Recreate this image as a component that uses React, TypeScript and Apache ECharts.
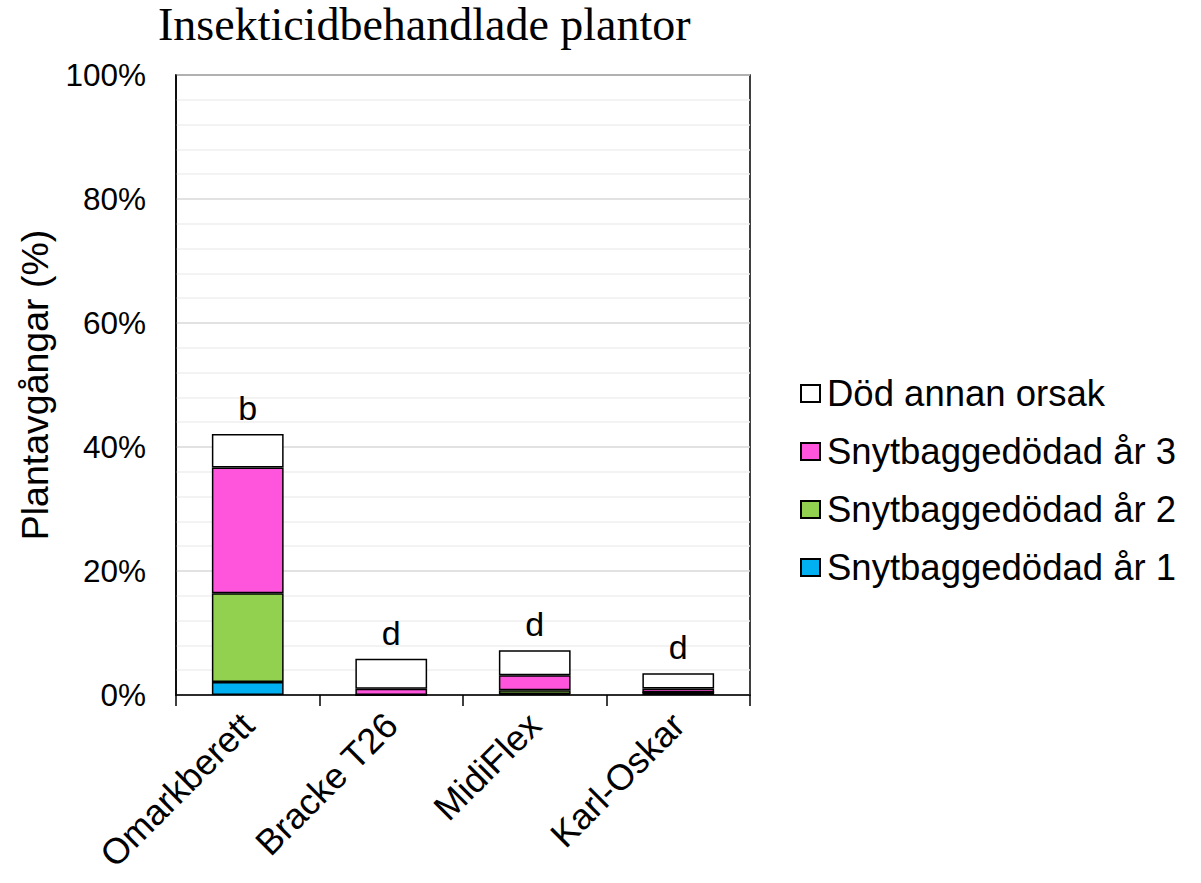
import React, { useEffect, useRef } from "react";
import * as echarts from "echarts";

const categories = ["Omarkberett", "Bracke T26", "MidiFlex", "Karl-Oskar"];
const year1 = [2.1, 0, 0.15, 0.45];
const year2 = [14.3, 0, 0.6, 0];
const year3 = [20.3, 1.0, 2.45, 0.6];
const other = [5.4, 4.85, 4.0, 2.45];
const letters = ["b", "d", "d", "d"];
const yTicks = [0, 20, 40, 60, 80, 100];

const SANS = "'Liberation Sans', Arial, sans-serif";

export default function App() {
  const ref = useRef<HTMLDivElement>(null);
  useEffect(() => {
    if (!ref.current) return;
    const chart = echarts.init(ref.current, null, { renderer: "svg" });
    const barBase = {
      type: "bar",
      stack: "total",
      barWidth: "50%",
      itemStyle: { borderColor: "#000", borderWidth: 1.5 },
    };
    chart.setOption({
      animation: false,
      backgroundColor: "#fff",
      title: {
        text: "Insekticidbehandlade plantor",
        left: 153,
        top: -4,
        textStyle: {
          fontFamily: "'Liberation Serif', 'Times New Roman', serif",
          fontSize: 46,
          fontWeight: "normal",
          color: "#000",
        },
      },
      legend: {
        orient: "vertical",
        left: 795,
        top: 370,
        itemWidth: 19,
        itemHeight: 17,
        itemGap: 21,
        icon: "rect",
        data: ["Död annan orsak", "Snytbaggedödad år 3", "Snytbaggedödad år 2", "Snytbaggedödad år 1"],
        textStyle: {
          fontFamily: SANS,
          fontSize: 36.5,
          color: "#000",
          lineHeight: 37,
          padding: [0, 0, 0, 2],
        },
      },
      grid: {
        left: 176,
        right: 451,
        top: 75,
        bottom: 188,
        show: true,
        borderColor: "#000",
        borderWidth: 1.5,
        containLabel: false,
      },
      xAxis: {
        type: "category",
        data: categories,
        axisLine: { show: true, lineStyle: { color: "#000", width: 1.5 } },
        axisTick: { show: true, length: 11, lineStyle: { color: "#000", width: 1.5 } },
        axisLabel: {
          rotate: 45,
          margin: 24,
          fontFamily: SANS,
          fontSize: 36,
          color: "#000",
        },
      },
      yAxis: {
        type: "value",
        min: yTicks[0],
        max: yTicks[yTicks.length - 1],
        interval: 20,
        name: "Plantavgångar (%)",
        nameLocation: "middle",
        nameGap: 122,
        nameTextStyle: { fontFamily: SANS, fontSize: 37.5, color: "#000" },
        axisLine: { show: true, lineStyle: { color: "#000", width: 1.5 } },
        axisTick: { show: false },
        axisLabel: {
          formatter: "{value}%",
          margin: 30,
          fontFamily: SANS,
          fontSize: 31.5,
          color: "#000",
        },
        splitLine: { show: true, lineStyle: { color: "#d9d9d9", width: 1.5 } },
        minorTick: { show: false, splitNumber: 5 },
        minorSplitLine: { show: true, lineStyle: { color: "#efefef", width: 1.5 } },
      },
      series: [
        { ...barBase, name: "Snytbaggedödad år 1", data: year1, itemStyle: { ...barBase.itemStyle, color: "#00B0F0" } },
        { ...barBase, name: "Snytbaggedödad år 2", data: year2, itemStyle: { ...barBase.itemStyle, color: "#92D050" } },
        { ...barBase, name: "Snytbaggedödad år 3", data: year3, itemStyle: { ...barBase.itemStyle, color: "#FF55DD" } },
        {
          ...barBase,
          name: "Död annan orsak",
          data: other,
          itemStyle: { ...barBase.itemStyle, color: "#FFFFFF" },
          label: {
            show: true,
            position: "top",
            distance: 9,
            formatter: (p: any) => letters[p.dataIndex],
            fontFamily: SANS,
            fontSize: 34,
            color: "#000",
          },
        },
      ],
    });
    return () => chart.dispose();
  }, []);
  return (
    <div
      ref={ref}
      style={{ position: "absolute", left: 0, top: 0, width: 1201, height: 883, background: "#fff" }}
    />
  );
}
